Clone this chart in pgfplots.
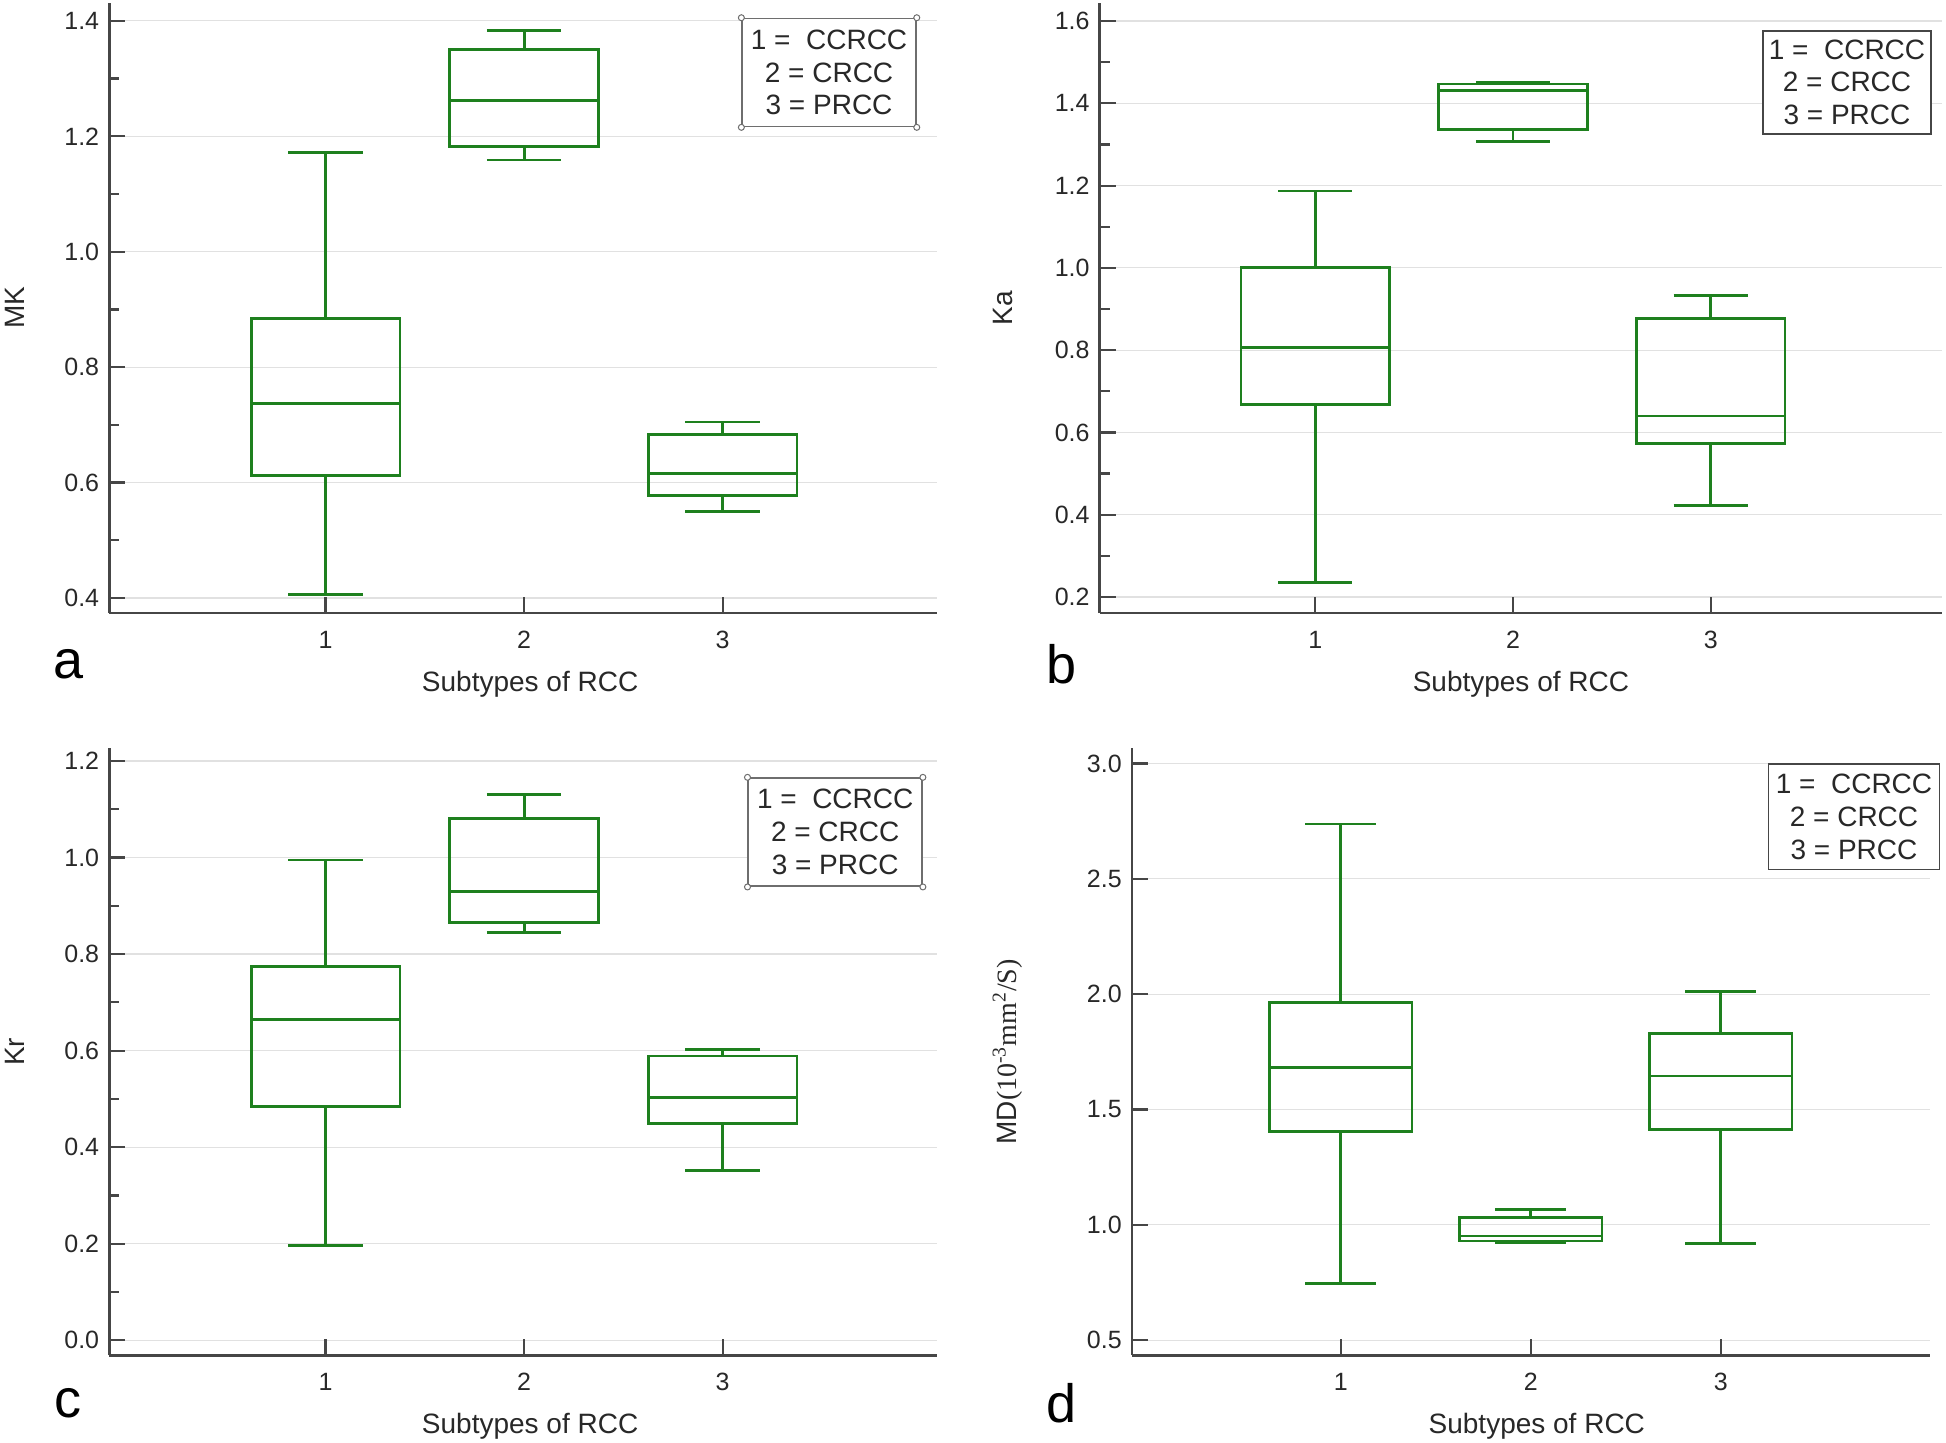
\documentclass[border=0pt]{standalone}
\usepackage{pgfplots}
\pgfplotsset{compat=1.18}
\usepgfplotslibrary{statistics}
\usepackage{fontspec}
\setmainfont{Liberation Sans}
\newfontfamily\seriffont{Liberation Serif}
\definecolor{boxgreen}{RGB}{30,128,30}
\definecolor{axisgray}{RGB}{70,70,70}
\definecolor{gridgray}{RGB}{225,225,225}
\definecolor{labelgray}{RGB}{40,40,40}
\definecolor{leggray}{RGB}{110,110,110}
\pgfplotsset{
  panel/.style={
    scale only axis, anchor=south west, clip=false,
    axis x line*=bottom, axis y line*=left,
    axis line style={draw=axisgray, line width=1.3pt, -},
    tick style={draw=axisgray, line width=1.1pt},
    tick align=inside,
    major tick length=8pt, minor tick length=5pt,
    xtick={1,2,3},
    ymajorgrids, major grid style={draw=gridgray, line width=0.6pt},
    tick label style={font=\fontsize{12.5}{14}\selectfont, text=labelgray},
    /pgf/number format/assume math mode=true,
    yticklabel style={xshift=-1.5pt, /pgf/number format/fixed, /pgf/number format/fixed zerofill, /pgf/number format/precision=1},
    xticklabel style={yshift=-5.5pt},
    label style={font=\fontsize{14}{16}\selectfont, text=labelgray},
    xlabel={Subtypes of RCC},
    xlabel style={at={(axis description cs:0.5,0)}, anchor=center, yshift=-35.5pt},
    ylabel style={at={(axis description cs:-0.114,0.5)}, anchor=center},
  },
  bx/.style={boxplot prepared={#1, draw direction=y, box extend=0.75, whisker extend=0.375}, draw=boxgreen, line width=1.4pt, solid,
    boxplot/every median/.style={line width=1.4pt}},
}
\tikzset{
  legnode/.style={draw=leggray, line width=0.8pt, fill=white, align=center,
    font=\fontsize{14}{16.4}\selectfont, text=labelgray, inner sep=0pt},
  handle/.style={draw=leggray, fill=white, line width=0.5pt, circle, inner sep=0pt, minimum size=3pt},
}
\newcommand{\legtext}{1 =\ \ CCRCC\\2 = CRCC\\3 = PRCC}
\begin{document}
\begin{tikzpicture}
\useasboundingbox (0,0) rectangle (973pt,721pt);
% Panel a
\begin{axis}[panel, at={(54.6pt,414.5pt)}, width=413.9pt, height=305pt,
  xmin=-0.09, xmax=4.08, ymin=0.374, ymax=1.431,
  ytick={0.4,0.6,0.8,1.0,1.2,1.4}, minor y tick num=1,
  xlabel style={xshift=3.5pt},
  ylabel={MK}]
\addplot[bx={draw position=1, lower whisker=0.406, lower quartile=0.612, median=0.737, upper quartile=0.884, upper whisker=1.172}] coordinates {};
\addplot[bx={draw position=2, lower whisker=1.159, lower quartile=1.183, median=1.262, upper quartile=1.351, upper whisker=1.383}] coordinates {};
\addplot[bx={draw position=3, lower whisker=0.550, lower quartile=0.578, median=0.616, upper quartile=0.683, upper whisker=0.705}] coordinates {};
\node[legnode, minimum width=86.9pt, minimum height=54pt] (la) at (rel axis cs:0.8696,0.886) {\legtext};
\node[handle] at (la.north west) {};
\node[handle] at (la.north east) {};
\node[handle] at (la.south west) {};
\node[handle] at (la.south east) {};
\end{axis}
% Panel b
\begin{axis}[panel, at={(549.8pt,414.5pt)}, width=421.3pt, height=305pt,
  xmin=-0.09, xmax=4.17, ymin=0.161, ymax=1.644,
  ytick={0.2,0.4,0.6,0.8,1.0,1.2,1.4,1.6}, minor y tick num=1,
  ylabel={Ka}, ylabel style={at={(axis description cs:-0.115,0.5)}}]
\addplot[bx={draw position=1, lower whisker=0.236, lower quartile=0.668, median=0.806, upper quartile=1.000, upper whisker=1.187}] coordinates {};
\addplot[bx={draw position=2, lower whisker=1.307, lower quartile=1.337, median=1.432, upper quartile=1.447, upper whisker=1.451}] coordinates {};
\addplot[bx={draw position=3, lower whisker=0.423, lower quartile=0.574, median=0.640, upper quartile=0.877, upper whisker=0.933}] coordinates {};
\node[legnode, draw=axisgray, minimum width=83.8pt, minimum height=51.5pt] at (rel axis cs:0.887,0.870) {\legtext};
\end{axis}
% Panel c
\begin{axis}[panel, at={(54.6pt,43.4pt)}, width=413.9pt, height=303.4pt,
  xmin=-0.09, xmax=4.08, ymin=-0.031, ymax=1.226,
  ytick={0,0.2,0.4,0.6,0.8,1.0,1.2}, minor y tick num=1,
  xlabel style={xshift=3.5pt},
  ylabel={Kr}]
\addplot[bx={draw position=1, lower whisker=0.197, lower quartile=0.485, median=0.665, upper quartile=0.775, upper whisker=0.995}] coordinates {};
\addplot[bx={draw position=2, lower whisker=0.845, lower quartile=0.865, median=0.930, upper quartile=1.080, upper whisker=1.130}] coordinates {};
\addplot[bx={draw position=3, lower whisker=0.352, lower quartile=0.449, median=0.503, upper quartile=0.589, upper whisker=0.602}] coordinates {};
\node[legnode, minimum width=86.9pt, minimum height=54pt] (lc) at (rel axis cs:0.877,0.862) {\legtext};
\node[handle] at (lc.north west) {};
\node[handle] at (lc.north east) {};
\node[handle] at (lc.south west) {};
\node[handle] at (lc.south east) {};
\end{axis}
% Panel d
\begin{axis}[panel, at={(565.9pt,43.4pt)}, width=399pt, height=303.4pt,
  xmin=-0.1, xmax=4.1, ymin=0.435, ymax=3.065,
  ytick={0.5,1.0,1.5,2.0,2.5,3.0},
  xlabel style={xshift=3pt},
  ylabel={MD{\seriffont(10\textsuperscript{-3}mm\textsuperscript{2}/S)}},
  ylabel style={at={(axis description cs:-0.156,0.5)}}]
\addplot[bx={draw position=1, lower whisker=0.747, lower quartile=1.405, median=1.683, upper quartile=1.962, upper whisker=2.737}] coordinates {};
\addplot[bx={draw position=2, lower whisker=0.925, lower quartile=0.930, median=0.952, upper quartile=1.032, upper whisker=1.065}] coordinates {};
\addplot[bx={draw position=3, lower whisker=0.919, lower quartile=1.415, median=1.645, upper quartile=1.828, upper whisker=2.011}] coordinates {};
\node[legnode, draw=axisgray, minimum width=85.6pt, minimum height=52.7pt] at (rel axis cs:0.905,0.887) {\legtext};
\end{axis}
% Panel letters
\node[font=\fontsize{27}{30}\selectfont, inner sep=0pt] at (34.1pt,389.0pt) {a};
\node[font=\fontsize{27}{30}\selectfont, inner sep=0pt] at (530.5pt,389.0pt) {b};
\node[font=\fontsize{27}{30}\selectfont, inner sep=0pt] at (34.1pt,19.2pt) {c};
\node[font=\fontsize{27}{30}\selectfont, inner sep=0pt] at (530.5pt,19.2pt) {d};
\end{tikzpicture}
\end{document}
